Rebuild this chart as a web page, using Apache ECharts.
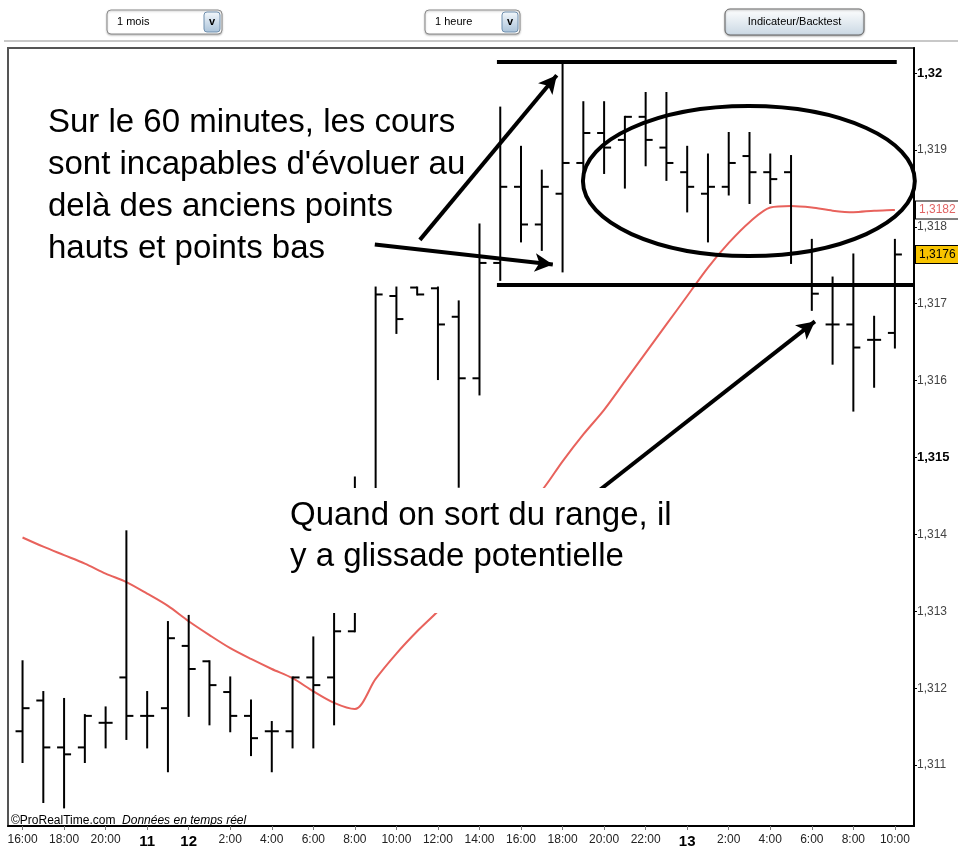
<!DOCTYPE html>
<html>
<head>
<meta charset="utf-8">
<script src="https://cdn.jsdelivr.net/npm/echarts@6/dist/echarts.min.js"></script>
<style>
  html, body { margin: 0; padding: 0; background: #fff; }
  #chart { width: 958px; height: 849px; }
</style>
</head>
<body>
<div id="chart"></div>
<script>
// tick labels every 2 hourly bars
const tickLabels = ['16:00', '18:00', '20:00', '11', '12', '2:00', '4:00', '6:00', '8:00', '10:00', '12:00',
  '14:00', '16:00', '18:00', '20:00', '22:00', '13', '2:00', '4:00', '6:00', '8:00', '10:00']
const dayLabels = ['11', '12', '13']
const priceTicks = [1.311, 1.312, 1.313, 1.314, 1.315, 1.316, 1.317, 1.318, 1.319, 1.32]
const boldTicks = [1.315, 1.32]

// hourly OHLC bars
const opens = [1.31144, 1.31184, 1.31123, 1.31123, 1.31155, 1.31214, 1.31164, 1.31174, 1.31255, 1.31235,
  1.31195, 1.31164, 1.31144, 1.31144, 1.31214, 1.31214, 1.31274, 1.3144, 1.3171, 1.31721,
  1.3172, 1.31683, 1.31603, 1.31753, 1.31852, 1.31803, 1.31843, 1.31883, 1.31922, 1.31913,
  1.31943, 1.31903, 1.31871, 1.31843, 1.31852, 1.31892, 1.31871, 1.31871, 1.31768, 1.31673,
  1.31673, 1.31653, 1.31662]
const highs = [1.31235, 1.31195, 1.31186, 1.31165, 1.31175, 1.31404, 1.31195, 1.31286, 1.31294, 1.31235,
  1.31214, 1.31184, 1.31156, 1.31214, 1.31266, 1.31299, 1.31474, 1.31721, 1.31721, 1.31721,
  1.31721, 1.31703, 1.31803, 1.31955, 1.31904, 1.31873, 1.32013, 1.31962, 1.31962, 1.31943,
  1.31974, 1.31974, 1.31904, 1.31894, 1.31922, 1.31922, 1.31894, 1.31892, 1.31783, 1.31734,
  1.31764, 1.31683, 1.31783]
const lows = [1.31104, 1.31052, 1.31045, 1.31104, 1.31123, 1.31134, 1.31123, 1.31092, 1.31164, 1.31153,
  1.31144, 1.31113, 1.31092, 1.31123, 1.31123, 1.31153, 1.31274, 1.3143, 1.31662, 1.31712,
  1.31602, 1.31462, 1.31582, 1.31731, 1.31781, 1.3177, 1.31742, 1.31852, 1.3187, 1.31851,
  1.3188, 1.31861, 1.3182, 1.31781, 1.31842, 1.31831, 1.31831, 1.31753, 1.31692, 1.31622,
  1.31561, 1.31592, 1.31643]
const closes = [1.31174, 1.31123, 1.31114, 1.31164, 1.31155, 1.31164, 1.31164, 1.31265, 1.31225, 1.31204,
  1.31164, 1.31135, 1.31144, 1.31214, 1.31204, 1.31274, 1.3144, 1.31712, 1.3168, 1.31712,
  1.31673, 1.31603, 1.31753, 1.31852, 1.31803, 1.31852, 1.31883, 1.31922, 1.31903, 1.31943,
  1.31913, 1.31883, 1.31852, 1.31852, 1.31883, 1.31871, 1.31862, 1.31766, 1.31713, 1.31673,
  1.31643, 1.31653, 1.31764]
// moving average (red)
const ma = [1.31396, 1.31384, 1.31373, 1.31362, 1.31349, 1.31338, 1.31323, 1.31307, 1.31287, 1.31269,
  1.31252, 1.31238, 1.31225, 1.31213, 1.31196, 1.31181, 1.31173, 1.31212, 1.31245, 1.31274,
  1.313, 1.31329, 1.31361, 1.31394, 1.31429, 1.31457, 1.31495, 1.3153, 1.31562, 1.31599,
  1.31636, 1.31673, 1.3171, 1.31747, 1.31779, 1.31806, 1.31825, 1.31827, 1.31825, 1.31821,
  1.31819, 1.31821, 1.31822]

// hand-drawn annotations, in data space (bar index, price)
const xMin = -0.7
const xMax = 42.92
const rangeTop = [[22.84, 1.32014], [42.09, 1.32014]]
const rangeBottom = [[22.84, 1.31725], [42.92, 1.31725]]
const arrows = [
  [[19.13, 1.31783], [25.72, 1.31997]],
  [[16.96, 1.31777], [25.53, 1.31751]],
  [[27.8, 1.31458], [38.15, 1.31677]]
]
const ellipseBox = [[26.98, 1.31957], [42.96, 1.31762]]
const note1 = "Sur le 60 minutes, les cours\nsont incapables d'évoluer au\ndelà des anciens points\nhauts et points bas"
const note2 = 'Quand on sort du range, il\ny a glissade potentielle'

const FONT = 'Arial, "Liberation Sans", sans-serif'
const fmtPrice = (v) => String(+v.toFixed(4)).replace('.', ',')

const ohlc = opens.map((o, i) => [i, o, closes[i], lows[i], highs[i]])

const renderBar = (params, api) => {
  const i = api.value(0)
  const o = api.coord([i, api.value(1)])
  const c = api.coord([i, api.value(2)])
  const l = api.coord([i, api.value(3)])
  const h = api.coord([i, api.value(4)])
  const t = 7
  const style = { stroke: '#000', lineWidth: 2 }
  return {
    type: 'group',
    children: [
      { type: 'line', shape: { x1: h[0], y1: h[1] - 1, x2: l[0], y2: l[1] + 1 }, style },
      { type: 'line', shape: { x1: o[0] - t, y1: o[1], x2: o[0], y2: o[1] }, style },
      { type: 'line', shape: { x1: c[0], y1: c[1], x2: c[0] + t, y2: c[1] }, style }
    ]
  }
}

const lineMark = (pts, arrow) => [
  { coord: pts[0], symbol: 'none' },
  { coord: pts[1], symbol: arrow ? 'arrow' : 'none' }
]

const priceTag = (value, color, bg) => [
  {
    coord: [xMin, value],
    symbol: 'none',
    lineStyle: { color: 'transparent', width: 0 },
    label: {
      show: true, position: 'end', distance: 2,
      formatter: fmtPrice(value),
      color, fontSize: 12, fontFamily: FONT,
      backgroundColor: bg, borderColor: '#000', borderWidth: 1,
      padding: [3, 3, 2, 3]
    }
  },
  { coord: [xMax, value], symbol: 'none' }
]

const chart = echarts.init(document.getElementById('chart'))

chart.setOption({
  animation: false,
  backgroundColor: '#fff',
  textStyle: { fontFamily: FONT },
  grid: {
    left: 8, top: 48, right: 44, bottom: 22,
    show: true, borderColor: '#555', borderWidth: 2, backgroundColor: '#fff'
  },
  xAxis: {
    type: 'value',
    min: xMin,
    max: xMax,
    splitLine: { show: false },
    axisLine: { onZero: false, lineStyle: { color: '#000', width: 2 } },
    axisTick: {
      show: true, length: 4, lineStyle: { color: '#777' },
      customValues: tickLabels.map((_, k) => k * 2)
    },
    axisLabel: {
      margin: 8,
      color: '#222',
      fontSize: 12,
      fontFamily: FONT,
      customValues: tickLabels.map((_, k) => k * 2),
      formatter: (v) => {
        const s = tickLabels[Math.round(v / 2)]
        return dayLabels.includes(s) ? '{b|' + s + '}' : s
      },
      rich: { b: { fontSize: 15, fontWeight: 'bold', color: '#000', fontFamily: FONT } }
    }
  },
  yAxis: {
    type: 'value',
    position: 'right',
    min: 1.310208,
    max: 1.320325,
    splitLine: { show: false },
    axisLine: { show: true, onZero: false, lineStyle: { color: '#000', width: 2 } },
    axisTick: { show: true, length: 3, lineStyle: { color: '#000' }, customValues: priceTicks },
    axisLabel: {
      margin: 3,
      color: '#444',
      fontSize: 12,
      fontFamily: FONT,
      customValues: priceTicks,
      formatter: (v) => {
        const s = fmtPrice(v)
        return boldTicks.some((b) => Math.abs(b - v) < 1e-7) ? '{b|' + s + '}' : s
      },
      rich: { b: { fontSize: 13, fontWeight: 'bold', color: '#000', fontFamily: FONT } }
    }
  },
  series: [
    {
      name: 'MA',
      type: 'line',
      data: ma.map((v, i) => [i, v]),
      symbol: 'none',
      smooth: 0.3,
      clip: false,
      z: 2,
      lineStyle: { color: '#e8625c', width: 2 },
      markLine: {
        silent: true,
        symbol: ['none', 'arrow'],
        symbolSize: [14, 18],
        animation: false,
        lineStyle: { color: '#000', width: 4, type: 'solid' },
        label: { show: false },
        data: [
          lineMark(rangeTop, false),
          lineMark(rangeBottom, false),
          ...arrows.map((a) => lineMark(a, true)),
          priceTag(ma[ma.length - 1], '#e06464', '#fff'),
          priceTag(closes[closes.length - 1], '#000', '#f7c300')
        ]
      }
    },
    {
      name: 'OHLC',
      type: 'custom',
      renderItem: renderBar,
      data: ohlc,
      encode: { x: 0, y: [1, 2, 3, 4] },
      z: 3
    }
  ]
})

// ellipse + toolbar + notes
const p1 = chart.convertToPixel({ gridIndex: 0 }, ellipseBox[0])
const p2 = chart.convertToPixel({ gridIndex: 0 }, ellipseBox[1])

const selectBox = (x, w, label) => ({
  type: 'group',
  children: [
    {
      type: 'rect', shape: { x, y: 10, width: w, height: 24, r: 4 },
      style: { fill: '#fff', stroke: '#8c8c8c', lineWidth: 1, shadowBlur: 2, shadowColor: 'rgba(0,0,0,0.25)', shadowOffsetY: 1 }
    },
    {
      type: 'text', x: x + 10, y: 22,
      style: { text: label, fontSize: 11, fontFamily: FONT, fill: '#000', verticalAlign: 'middle' }
    },
    {
      type: 'rect', shape: { x: x + w - 18, y: 12, width: 16, height: 20, r: 3 },
      style: {
        fill: new echarts.graphic.LinearGradient(0, 0, 0, 1, [
          { offset: 0, color: '#f4f8fc' }, { offset: 1, color: '#a9c2d9' }
        ]),
        stroke: '#6f8fae', lineWidth: 1
      }
    },
    {
      type: 'text', x: x + w - 10, y: 22,
      style: { text: 'v', fontSize: 11, fontWeight: 'bold', fontFamily: FONT, fill: '#000', align: 'center', verticalAlign: 'middle' }
    }
  ]
})

chart.setOption({
  graphic: [
    { type: 'line', shape: { x1: 4, y1: 41, x2: 958, y2: 41 }, style: { stroke: '#c8c8c8', lineWidth: 2 } },
    selectBox(107, 115, '1 mois'),
    selectBox(425, 95, '1 heure'),
    {
      type: 'group',
      children: [
        {
          type: 'rect', shape: { x: 725, y: 9, width: 139, height: 26, r: 5 },
          style: {
            fill: new echarts.graphic.LinearGradient(0, 0, 0, 1, [
              { offset: 0, color: '#ffffff' }, { offset: 1, color: '#c9d7e3' }
            ]),
            stroke: '#666', lineWidth: 1, shadowBlur: 2, shadowColor: 'rgba(0,0,0,0.3)', shadowOffsetY: 1
          }
        },
        {
          type: 'text', x: 794.5, y: 22,
          style: { text: 'Indicateur/Backtest', fontSize: 11, fontFamily: FONT, fill: '#000', align: 'center', verticalAlign: 'middle' }
        }
      ]
    },
    {
      type: 'ellipse', z: 100,
      shape: { cx: (p1[0] + p2[0]) / 2, cy: (p1[1] + p2[1]) / 2, rx: (p2[0] - p1[0]) / 2, ry: (p2[1] - p1[1]) / 2 },
      style: { fill: 'none', stroke: '#000', lineWidth: 4 }
    },
    {
      type: 'text', z: 100, x: 48, y: 102,
      style: { text: note1, fontSize: 33, lineHeight: 42, fontFamily: FONT, fill: '#000', verticalAlign: 'top' }
    },
    {
      type: 'rect', z: 100, shape: { x: 285, y: 488, width: 415, height: 125 },
      style: { fill: '#fff' }
    },
    {
      type: 'text', z: 101, x: 290, y: 495,
      style: { text: note2, fontSize: 33, lineHeight: 41, fontFamily: FONT, fill: '#000', verticalAlign: 'top' }
    },
    {
      type: 'text', z: 100, x: 11, y: 821,
      style: {
        text: '©ProRealTime.com  {i|Données en temps réel}',
        fontSize: 12, fontFamily: FONT, fill: '#000', verticalAlign: 'middle',
        rich: { i: { fontStyle: 'italic', fontSize: 12, fontFamily: FONT, fill: '#000' } }
      }
    }
  ]
})
</script>
</body>
</html>
